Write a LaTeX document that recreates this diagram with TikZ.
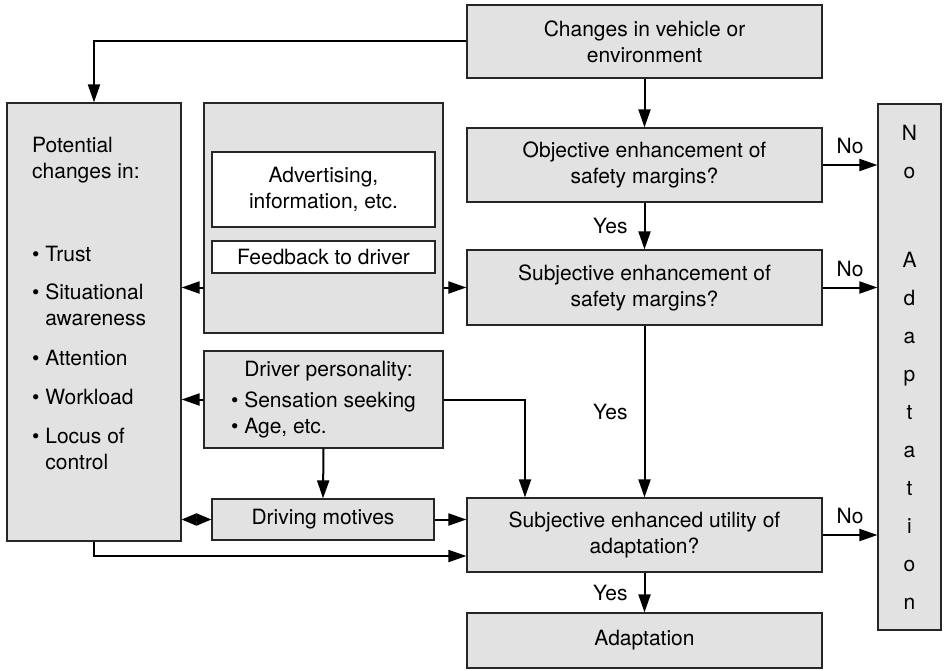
\documentclass[tikz,border=0pt]{standalone}
\usepackage{fontspec}
\setmainfont{TeX Gyre Heros}
\usepackage{tikz}
\usetikzlibrary{arrows.meta}
\usetikzlibrary{positioning}
\definecolor{boxgrey}{HTML}{E2E2E2}

\begin{document}
\begin{tikzpicture}[x=1pt, y=-1pt,
        font=\fontsize{21}{26}\selectfont,
        box/.style={draw=black!85, line width=1.2pt, fill=boxgrey, inner sep=0pt, align=center},
        whitebox/.style={box, fill=white},
        flow/.style={line width=2pt, -{Triangle[length=18pt,width=12pt]}},
        both/.style={line width=2pt, {Triangle[length=15pt,width=12pt]}-{Triangle[length=15pt,width=12pt]}},
        lab/.style={inner sep=2pt}]
                \useasboundingbox (0,0) rectangle (944,671);

                % right column
                \node[box, minimum width=355pt, minimum height=73pt] (changes) at (644.5,41.5) {Changes in vehicle or\\environment};
                \node[box, minimum width=355pt, minimum height=74pt] (objective) at (644.5,165) {Objective enhancement of\\safety margins?};
                \node[box, minimum width=355pt, minimum height=75pt] (subjective) at (644.5,287.5) {Subjective enhancement of\\safety margins?};
                \node[box, minimum width=355pt, minimum height=74pt] (utility) at (644.5,535) {Subjective enhanced utility of\\adaptation?};
                \node[box, minimum width=355pt, minimum height=55pt] (adaptation) at (644.5,640.5) {Adaptation};
                \node[box, minimum width=63pt, minimum height=526pt, font=\fontsize{21}{38}\selectfont] (noadapt) at (909.5,367)
                    {N\\o\\[51pt]A\\d\\a\\p\\t\\a\\t\\i\\o\\n};

                % left column
                \node[box, minimum width=174pt, minimum height=438pt] (potential) at (94,322) {};
                \node[anchor=north west, inner sep=0pt, align=left] (potentialtext) at (32,137)
                    {Potential\\changes in:\\[57pt]• Trust\\[12pt]• Situational\\\hphantom{• }awareness\\[14pt]• Attention\\[13pt]• Workload\\[13pt]• Locus of\\\hphantom{• }control};

                % middle column
                \node[box, minimum width=239pt, minimum height=230pt] (advbox) at (323.5,218) {};
                \node[whitebox, minimum width=223pt, minimum height=75pt] (advert) at (323.5,189.5) {Advertising,\\information, etc.};
                \node[whitebox, minimum width=223pt, minimum height=32pt] (feedback) at (323.5,257) {Feedback to driver};
                \node[box, minimum width=239pt, minimum height=97pt, align=left] (driver) at (323.5,399.5)
                    {\hphantom{• }Driver personality:\\[5pt]• Sensation seeking\\• Age, etc.};
                \node[box, minimum width=222pt, minimum height=41pt] (motives) at (323,519.5) {Driving motives};

                % connectors
                \draw[flow] (changes.west) -| (potential.north);
                \draw[flow] (changes.south) -- (objective.north);
                \draw[flow] (objective.south) -- (subjective.north) node[midway, left=14pt, lab] {Yes};
                \draw[flow] (subjective.south) -- (utility.north) node[midway, left=14pt, lab] {Yes};
                \draw[flow] (utility.south) -- (adaptation.north) node[midway, left=14pt, lab] {Yes};

                \draw[flow] (objective.east) -- (objective.east -| noadapt.west) node[midway, above=8pt, lab] {No};
                \draw[flow] (subjective.east) -- (subjective.east -| noadapt.west) node[midway, above=8pt, lab] {No};
                \draw[flow] (utility.east) -- (utility.east -| noadapt.west) node[midway, above=8pt, lab] {No};

                \draw[flow] (advbox.west |- subjective.west) -- (potential.east |- subjective.west);
                \draw[flow] (advbox.east |- subjective.west) -- (subjective.west);
                \draw[flow] (driver.west) -- (potential.east |- driver.west);
                \draw[flow] (driver.east) -| ([xshift=-119.5pt]utility.north);
                \draw[flow] (driver.south) -- (motives.north);
                \draw[both] (potential.east |- motives.west) -- (motives.west);
                \draw[flow] (motives.east) -- (utility.west |- motives.east);
                \draw[flow] (potential.south) |- ([yshift=-21pt]utility.west);
            \end{tikzpicture}
\end{document}
